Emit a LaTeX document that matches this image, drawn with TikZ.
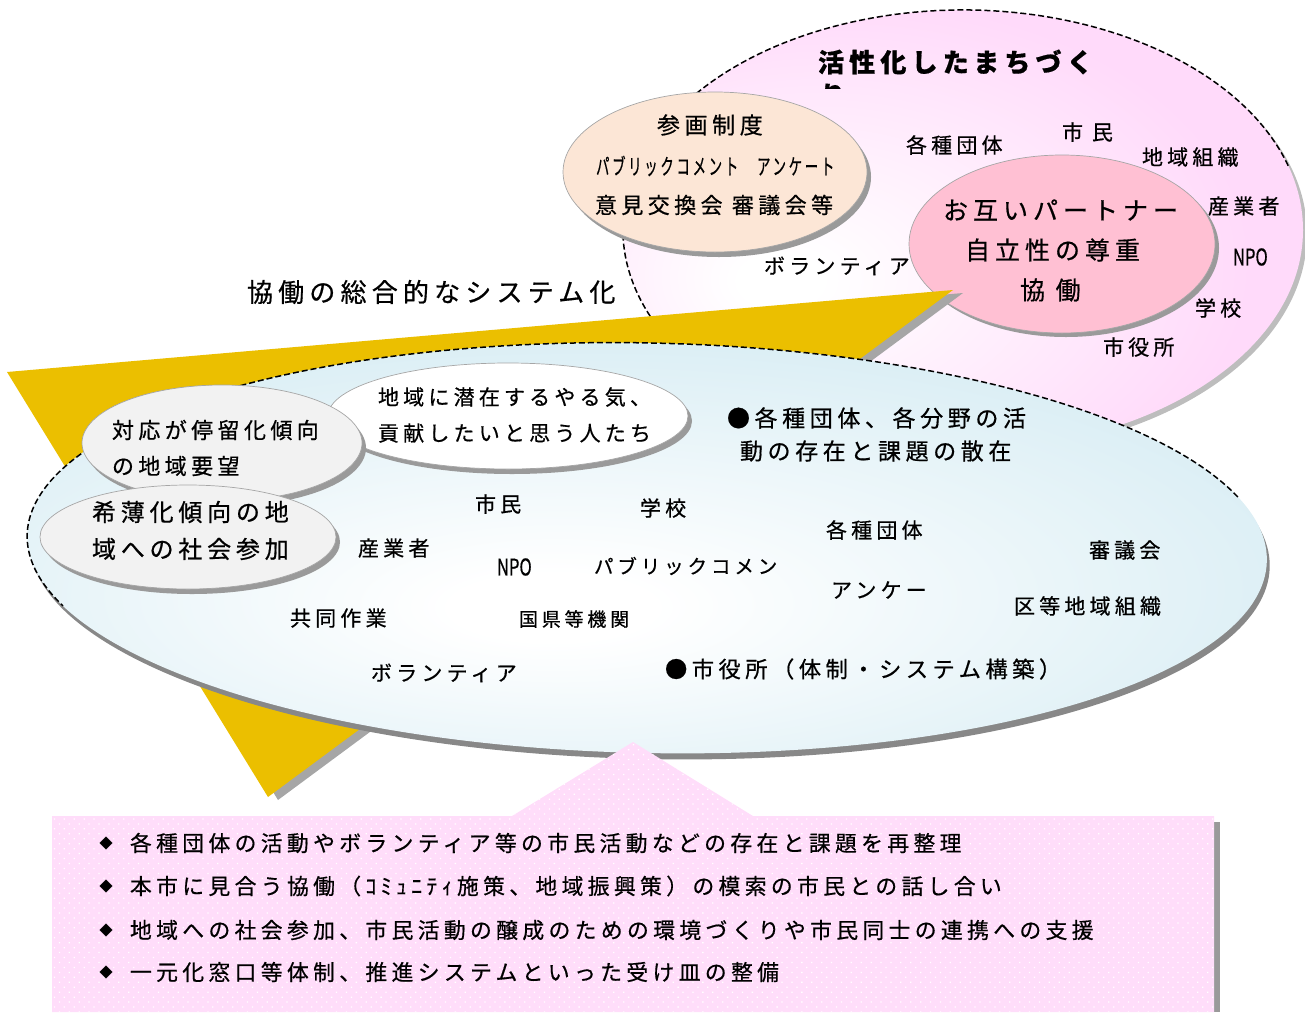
\documentclass[tikz,border=0pt]{standalone}
\usepackage{fontspec}
\usetikzlibrary{patterns.meta}
\newfontfamily\jp[LetterSpace=20,FakeBold=0.6]{Noto Sans CJK JP}
\newfontfamily\jpn[FakeBold=0.6]{Noto Sans CJK JP}
\newcommand\jfs[1]{\jp\fontsize{#1}{#1}\selectfont}
\definecolor{pinkbg}{HTML}{FFDAFA}
\definecolor{peach}{HTML}{FCE6D6}
\definecolor{innerpink}{HTML}{FFC0D3}
\definecolor{bluebg}{HTML}{D8EDF4}
\definecolor{ellgray}{HTML}{F2F2F2}
\definecolor{yel}{HTML}{EBBF00}
\definecolor{boxpink}{HTML}{FFDDFA}
\definecolor{shpink}{HTML}{BDBDBD}
\definecolor{shblue}{HTML}{888888}
\definecolor{shgen}{HTML}{9A9A9A}
\definecolor{shyel}{HTML}{A6A6A6}
\pgfdeclareradialshading{pinkshade}{\pgfpoint{-14bp}{-6bp}}{color(0bp)=(white); color(3bp)=(white); color(30bp)=(pinkbg); color(80bp)=(pinkbg)}
\pgfdeclareradialshading{blueshade}{\pgfpoint{-4bp}{-8bp}}{color(0bp)=(white); color(4bp)=(white); color(32bp)=(bluebg); color(80bp)=(bluebg)}
\tikzset{
  lbl/.style={anchor=west, inner sep=0pt, outer sep=0pt},
  dashborder/.style={draw=black, line width=1.5pt, dash pattern=on 6pt off 3pt},
  ellborder/.style={draw=gray!70, line width=0.7pt},
}
\begin{document}
\begin{tikzpicture}[x=1pt,y=-1pt]
\useasboundingbox (0,0) rectangle (1305,1012);

% big pink ellipse
\fill[shpink] (967,234) ellipse [x radius=340pt, y radius=220pt];
\shade[shading=pinkshade] (963,230) ellipse [x radius=340pt, y radius=220pt];
\draw[dashborder] ([shift={(17:340pt and 220pt)}]963,230) arc[start angle=17, end angle=250, x radius=340pt, y radius=220pt];

% peach ellipse
\fill[shgen] (719,177) ellipse [x radius=152pt, y radius=80pt];
\path[fill=peach, ellborder] (715,172) ellipse [x radius=152pt, y radius=80pt];

% inner pink ellipse
\fill[shgen] (1066,248) ellipse [x radius=153pt, y radius=89pt];
\path[fill=innerpink, ellborder] (1062,244) ellipse [x radius=153pt, y radius=89pt];

% yellow triangle
\fill[shyel] (17,375) -- (963,293) -- (278,800) -- cycle;
\fill[yel] (7,372) -- (953,290) -- (268,797) -- cycle;

% blue ellipse
\begin{scope}[rotate around={-1.2:(647,548)}]
\fill[shblue] (650,554) ellipse [x radius=620pt, y radius=205pt];
\shade[shading=blueshade] (647,548) ellipse [x radius=620pt, y radius=205pt];
\draw[dashborder] ([shift={(18:620pt and 205pt)}]647,548) arc[start angle=18, end angle=200, x radius=620pt, y radius=205pt];
\end{scope}

% white ellipse
\fill[shgen] (512,421) ellipse [x radius=180pt, y radius=53pt];
\path[fill=white, ellborder] (508,416) ellipse [x radius=180pt, y radius=53pt];
% grey ellipses
\fill[shgen] (226,448) ellipse [x radius=140pt, y radius=58pt];
\path[fill=ellgray, ellborder] (222,443) ellipse [x radius=140pt, y radius=58pt];
\fill[shgen] (192,542) ellipse [x radius=148pt, y radius=52pt];
\path[fill=ellgray, ellborder] (188,537) ellipse [x radius=148pt, y radius=52pt];

% bottom box
\fill[shgen] (1214,822) rectangle (1220,1012);
\fill[boxpink] (52,816) -- (512,816) -- (633,742) -- (753,816) -- (1214,816) -- (1214,1012) -- (52,1012) -- cycle;
\path[pattern={Dots[distance=7pt,angle=45,radius=0.9pt]}, pattern color=white] (52,816) -- (512,816) -- (633,742) -- (753,816) -- (1214,816) -- (1214,1012) -- (52,1012) -- cycle;

% ---- texts: big pink ellipse
\node[lbl, font=\jfs{26}\bfseries] (title) at (818,62) {活性化したまちづく};
\begin{scope}
\clip (810,80) rectangle (870,88);
\node[inner sep=0pt, anchor=base west, font=\jfs{26}\bfseries] (ri) at (820,105) {り};
\end{scope}
\node[lbl, font=\jfs{21}] (p1) at (906,145) {各種団体};
\node[lbl, font=\jfs{21}] (p2) at (1062,132) {市 民};
\node[lbl, font=\jfs{21}] (p3) at (1142,157) {地域組織};
\node[lbl, font=\jfs{21}] (p4) at (1208,206) {産業者};
\node[lbl] (p5) at (1233,257) {\jpn\fontsize{23}{23}\selectfont\scalebox{0.72}[1]{NPO}};
\node[lbl, font=\jfs{21}] (p6) at (1195,308) {学校};
\node[lbl, font=\jfs{21}] (p7) at (1103,347) {市役所};
\node[lbl, font=\jfs{21}] (p8) at (764,266) {ボランティア};

% peach
\node[lbl, font=\jfs{23}] (c1) at (657,125) {参画制度};
\node[lbl, font=\jfs{22}] (c2) at (596,166) {\scalebox{0.61}[1]{パブリックコメント　アンケート}};
\node[lbl, font=\jfs{22}] (c3) at (595,205) {意見交換会 審議会等};

% inner pink
\node[lbl, font=\jfs{25}] (i1) at (943,210) {お互いパートナー};
\node[lbl, font=\jfs{25}] (i2) at (965,250) {自立性の尊重};
\node[lbl, font=\jfs{25}] (i3) at (1020,290) {協 働};

% system label
\node[lbl, font=\jfs{26}] (sys) at (247,292) {協働の総合的なシステム化};

% white ellipse
\node[lbl, font=\jfs{21}] (w1) at (378,397) {地域に潜在するやる気、};
\node[lbl, font=\jfs{21}] (w2) at (378,433) {貢献したいと思う人たち};

% grey ellipses
\node[lbl, font=\jfs{22}] (g1) at (112,430) {対応が停留化傾向};
\node[lbl, font=\jfs{22}] (g2) at (112,466) {の地域要望};
\node[lbl, font=\jfs{24}] (g3) at (92,512) {希薄化傾向の地};
\node[lbl, font=\jfs{24}] (g4) at (92,549) {域への社会参加};

% blue ellipse
\node[lbl, font=\jfs{23}] (b1) at (727,418) {●各種団体、各分野の活};
\node[lbl, font=\jfs{23}] (b2) at (740,451) {動の存在と課題の散在};
\node[lbl, font=\jfs{21}] (b3) at (475,504) {市民};
\node[lbl, font=\jfs{21}] (b4) at (640,508) {学校};
\node[lbl, font=\jfs{21}] (b5) at (826,530) {各種団体};
\node[lbl, font=\jfs{21}] (b6) at (1089,550) {審議会};
\node[lbl, font=\jfs{21}] (b7) at (358,548) {産業者};
\node[lbl] (b8) at (497,567) {\jpn\fontsize{23}{23}\selectfont\scalebox{0.72}[1]{NPO}};
\node[lbl, font=\jfs{19.5}] (b9) at (594,566) {パブリックコメン};
\node[lbl, font=\jfs{21}] (b10) at (831,590) {アンケー};
\node[lbl, font=\jfs{21}] (b11) at (1014,606) {区等地域組織};
\node[lbl, font=\jfs{21}] (b12) at (290,618) {共同作業};
\node[lbl, font=\jfs{19}] (b13) at (519,619) {国県等機関};
\node[lbl, font=\jfs{21}] (b14) at (371,673) {ボランティア};
\node[lbl, font=\jfs{22.3}] (b15) at (665,669) {●市役所（体制・システム構築）};

% bottom list
\foreach \yy/\tx [count=\k] in {843/各種団体の活動やボランティア等の市民活動などの存在と課題を再整理,
  886/本市に見合う協働（ｺﾐｭﾆﾃｨ施策、地域振興策）の模索の市民との話し合い,
  930/地域への社会参加、市民活動の醸成のための環境づくりや市民同士の連携への支援,
  972/一元化窓口等体制、推進システムといった受け皿の整備}{
  \node[inner sep=0pt, font=\jpn\fontsize{13}{13}\selectfont] (d\k) at (106,\yy) {◆};
  \node[lbl, font=\jfs{21.8}] (t\k) at (130,\yy) {\tx};
}
\end{tikzpicture}
\end{document}
